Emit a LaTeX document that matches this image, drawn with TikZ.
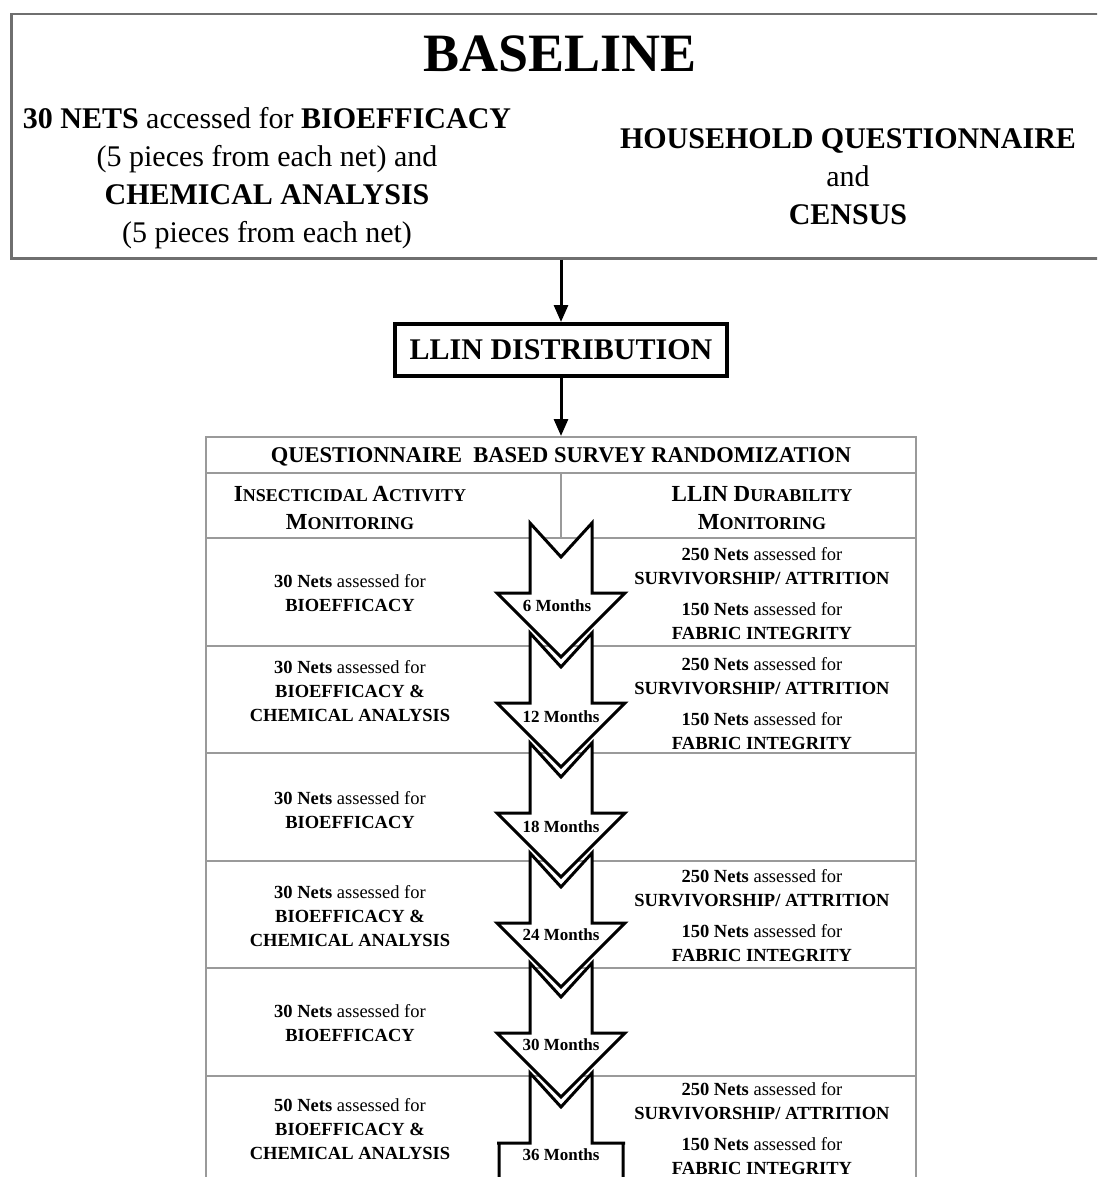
\documentclass[tikz,border=0pt]{standalone}
\usepackage{fontspec}
\setmainfont{Liberation Serif}
\usetikzlibrary{arrows.meta}
\definecolor{boxgray}{HTML}{6F6F6F}
\definecolor{gridgray}{HTML}{9A9A9A}
\newcommand\netsfor[1]{\textbf{#1 Nets} assessed for}
\newcommand\fsc[2]{{\fontsize{23}{28}\selectfont #1}{\fontsize{18}{28}\selectfont #2}}
\tikzset{
  frame/.style={draw=boxgray, line width=2.5pt, inner sep=0pt},
  cell/.style={draw=gridgray, line width=2pt, minimum width=710pt, inner sep=0pt},
  flow/.style={line width=3pt, -{Triangle[length=17pt,width=14pt]}},
  stage/.style={draw, line width=4pt, minimum width=332pt, minimum height=52pt, inner sep=0pt,
    font=\fontsize{30}{36}\selectfont\bfseries},
  txt/.style={align=center, inner sep=0pt},
  body/.style={txt, font=\fontsize{18.5}{24}\selectfont},
  period/.style={line width=3pt, draw=black, fill=white, line join=miter},
  month/.style={inner sep=0pt, font=\fontsize{17}{18}\selectfont\bfseries},
}
\begin{document}
\begin{tikzpicture}[x=1pt, y=-1pt]
\useasboundingbox (0,0) rectangle (1097,1177);
\clip (0,0) rectangle (1097,1177);

% baseline box
\node[frame, minimum width=1100pt, minimum height=244pt, anchor=north west] (base) at (10,13) {};
\node[txt, font=\fontsize{54}{60}\selectfont\bfseries] (title) at (560,54) {BASELINE};
\node[txt, font=\fontsize{30}{38}\selectfont] (bioleft) at (267,178)
  {\textbf{30 NETS} accessed for \textbf{BIOEFFICACY}\\(5 pieces from each net) and\\
   \textbf{CHEMICAL ANALYSIS}\\(5 pieces from each net)};
\node[txt, font=\fontsize{30}{38}\selectfont] (census) at (848,177)
  {\textbf{HOUSEHOLD QUESTIONNAIRE}\\and\\\textbf{CENSUS}};

% distribution
\node[stage] (llin) at (561,350) {LLIN DISTRIBUTION};

% survey table
\node[cell, minimum height=36pt] (hdr) at (561,455) {};
\node[cell, minimum height=65pt] (sub) at (561,505.5) {};
\foreach \i in {0,...,5}
  \node[cell, minimum height=107.5pt] (row\i) at (561,{591.75+107.5*\i}) {};
\draw[gridgray, line width=2pt] (hdr.south) -- (sub.south);

\node[txt, font=\fontsize{22.5}{26}\selectfont\bfseries] (hdrtext) at (561,457)
  {QUESTIONNAIRE\ \ BASED SURVEY RANDOMIZATION};
\node[txt, font=\fontsize{18}{28}\selectfont\bfseries] (insect) at (350,508)
  {\fsc{I}{NSECTICIDAL} \fsc{A}{CTIVITY}\\\fsc{M}{ONITORING}};
\node[txt, font=\fontsize{18}{28}\selectfont\bfseries] (durab) at (762,508)
  {\fsc{LLIN D}{URABILITY}\\\fsc{M}{ONITORING}};

% connectors
\draw[flow] (llin.north |- base.south) -- (llin.north);
\draw[flow] (llin.south) -- (hdr.north);

% period arrows
\foreach \k in {0,...,4}
  \draw[period, shift={(0,110*\k)}]
    (530,523) -- (561,557) -- (592,523) -- (592,593) -- (625,593)
    -- (561,657) -- (497,593) -- (530,593) -- cycle;
\draw[period]
  (530,1073) -- (561,1107) -- (592,1073) -- (592,1143) -- (625,1143)
  -- (623,1143) -- (623,1200) -- (499,1200) -- (499,1143) -- (497,1143) -- (530,1143) -- cycle;

\node[month] (m6)  at (557,606)  {6 Months};
\node[month] (m12) at (561,717)  {12 Months};
\node[month] (m18) at (561,827)  {18 Months};
\node[month] (m24) at (561,935)  {24 Months};
\node[month] (m30) at (561,1045) {30 Months};
\node[month] (m36) at (561,1155) {36 Months};

% insecticidal activity column
\node[body] (a6)  at (350,593)  {\netsfor{30}\\\textbf{BIOEFFICACY}};
\node[body] (a12) at (350,691)  {\netsfor{30}\\\textbf{BIOEFFICACY \&}\\\textbf{CHEMICAL ANALYSIS}};
\node[body] (a18) at (350,810)  {\netsfor{30}\\\textbf{BIOEFFICACY}};
\node[body] (a24) at (350,916)  {\netsfor{30}\\\textbf{BIOEFFICACY \&}\\\textbf{CHEMICAL ANALYSIS}};
\node[body] (a30) at (350,1023) {\netsfor{30}\\\textbf{BIOEFFICACY}};
\node[body] (a36) at (350,1129) {\netsfor{50}\\\textbf{BIOEFFICACY \&}\\\textbf{CHEMICAL ANALYSIS}};

% durability column
\node[body] (d6)  at (762,593.5)  {\netsfor{250}\\\textbf{SURVIVORSHIP/ ATTRITION}\\[7pt]\netsfor{150}\\\textbf{FABRIC INTEGRITY}};
\node[body] (d12) at (762,703.5)  {\netsfor{250}\\\textbf{SURVIVORSHIP/ ATTRITION}\\[7pt]\netsfor{150}\\\textbf{FABRIC INTEGRITY}};
\node[body] (d24) at (762,915.5)  {\netsfor{250}\\\textbf{SURVIVORSHIP/ ATTRITION}\\[7pt]\netsfor{150}\\\textbf{FABRIC INTEGRITY}};
\node[body] (d36) at (762,1128.5) {\netsfor{250}\\\textbf{SURVIVORSHIP/ ATTRITION}\\[7pt]\netsfor{150}\\\textbf{FABRIC INTEGRITY}};
\end{tikzpicture}
\end{document}
